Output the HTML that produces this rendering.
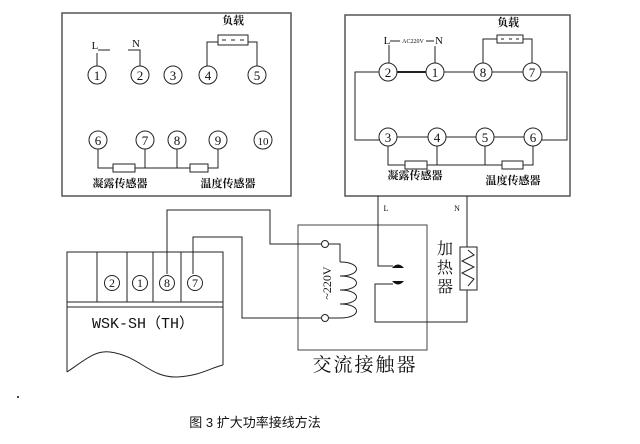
<!DOCTYPE html>
<html><head><meta charset="utf-8"><style>
html,body{margin:0;padding:0;background:#fff;width:640px;height:444px;overflow:hidden}
svg{display:block}
text{font-family:"Liberation Serif","Noto Serif CJK SC",serif;fill:#111}
.b{font-family:"Liberation Serif","Noto Sans CJK SC",sans-serif;font-weight:bold}
</style></head><body>
<svg width="640" height="444" viewBox="0 0 640 444" xmlns="http://www.w3.org/2000/svg">
<g fill="none" stroke="#222" stroke-width="1">
<!-- left panel -->
<rect x="62" y="13" width="229" height="183" stroke="#555" stroke-width="1.5"/>
<g fill="#fff">
<circle cx="97" cy="75" r="9"/><circle cx="140" cy="75" r="9"/><circle cx="173" cy="75" r="9"/><circle cx="208" cy="75" r="9"/><circle cx="257" cy="75" r="9"/>
<circle cx="98" cy="140" r="9"/><circle cx="145" cy="140" r="9"/><circle cx="177" cy="140" r="9"/><circle cx="218" cy="140" r="9"/><circle cx="263" cy="140" r="9"/>
</g>
<polyline points="97,53 97,66"/><polyline points="98,50 110,50"/>
<polyline points="128,50 140,50 140,66"/>
<rect x="218" y="35" width="30" height="10"/>
<line x1="222" y1="40" x2="226" y2="40"/><line x1="231" y1="40" x2="235" y2="40"/><line x1="240" y1="40" x2="244" y2="40"/>
<polyline points="218,42 207,42 207,66"/><polyline points="248,42 257,42 257,66"/>
<polyline points="98,149 98,168 113,168"/><rect x="113" y="164" width="22" height="8"/>
<polyline points="135,168 145,168 145,149"/><polyline points="145,168 190,168"/><polyline points="177,149 177,168"/>
<rect x="190" y="164" width="18" height="8"/><polyline points="208,168 218,168 218,149"/>
<!-- right panel -->
<rect x="345" y="15" width="225" height="181" stroke="#555" stroke-width="1.5"/>
<polyline points="389,45 389,63"/><polyline points="435,46 435,63"/>
<polyline points="390,41 400,41"/><polyline points="426,41 434,41"/>
<rect x="497" y="35" width="26" height="8"/>
<line x1="501" y1="39" x2="504" y2="39"/><line x1="509" y1="39" x2="512" y2="39"/><line x1="516" y1="39" x2="519" y2="39"/>
<polyline points="497,39 483,39 483,63"/><polyline points="523,39 532,39 532,63"/>
<line x1="397" y1="72" x2="426" y2="72" stroke-width="2"/>
<polyline points="444,72 474,72"/><polyline points="492,72 523,72"/>
<polyline points="379,72 355,72 355,140 379,140"/>
<polyline points="541,72 567,72 567,140 542,140"/>
<polyline points="397,137 428,137"/><polyline points="446,137 476,137"/><polyline points="494,137 524,137"/>
<polyline points="388,146 388,165 405,165"/><rect x="405" y="161" width="22" height="8"/>
<polyline points="427,165 502,165"/><polyline points="437,146 437,165"/><polyline points="485,146 485,165"/>
<rect x="502" y="161" width="21" height="8"/><polyline points="523,165 533,165 533,146"/>
<g fill="#fff">
<circle cx="388" cy="72" r="9"/><circle cx="435" cy="72" r="9"/><circle cx="483" cy="72" r="9"/><circle cx="532" cy="72" r="9"/>
<circle cx="388" cy="137" r="9"/><circle cx="437" cy="137" r="9"/><circle cx="485" cy="137" r="9"/><circle cx="533" cy="137" r="9"/>
</g>
<!-- contactor -->
<rect x="298" y="225" width="129" height="125" stroke="#444"/>
<polyline points="378,196 378,266 393,266"/>
<polyline points="393,284 375,284 375,322 467,322 467,290"/>
<polyline points="467,196 467,247"/>
<rect x="460" y="247" width="17" height="43"/>
<polyline points="468,250 474,255 462,261 474,267 462,273 474,279 468,286"/>
<circle cx="325" cy="244" r="3.5"/><circle cx="325" cy="318" r="3.5"/>
<polyline points="329,244 340,244 340,262"/>
<path d="M340,262 C362,262 362,276 340,276 C362,276 362,290 340,290 C362,290 362,304 340,304 C362,304 362,318 340,318 L329,318"/>
<polyline points="321,244 270,244 270,210 167,210 167,274"/>
<polyline points="321,318 242,318 242,237 193,237 193,274"/>
<!-- device -->
<path d="M67,372 L67,252 L223,252 L223,365"/>
<path d="M67,372 C85,360 95,350 110,352 C140,356 150,378 177,377 C200,376 210,368 223,365"/>
<line x1="97" y1="252" x2="97" y2="302"/><line x1="127" y1="252" x2="127" y2="302"/><line x1="153" y1="252" x2="153" y2="302"/><line x1="181" y1="252" x2="181" y2="302"/>
<line x1="67" y1="302" x2="223" y2="302"/><line x1="67" y1="307" x2="223" y2="307"/>
<g fill="#fff"><circle cx="112" cy="283" r="7.5"/><circle cx="140" cy="283" r="7.5"/><circle cx="167" cy="283" r="7.5"/><circle cx="195" cy="283" r="7.5"/></g>
</g>
<path d="M392,268 Q398,261 404,268 Z" fill="#111"/>
<path d="M392,281 Q398,288 404,281 Z" fill="#111"/>
<g font-size="13" text-anchor="middle">
<text x="97" y="80">1</text><text x="140" y="80">2</text><text x="173" y="80">3</text><text x="208" y="80">4</text><text x="257" y="80">5</text>
<text x="98" y="145">6</text><text x="145" y="145">7</text><text x="177" y="145">8</text><text x="218" y="145">9</text><text x="263" y="145" font-size="11">10</text>
<text x="388" y="77">2</text><text x="435" y="77">1</text><text x="483" y="77">8</text><text x="532" y="77">7</text>
<text x="388" y="142">3</text><text x="437" y="142">4</text><text x="485" y="142">5</text><text x="533" y="142">6</text>
</g>
<g font-size="11" text-anchor="middle">
<text x="95" y="49">L</text><text x="136" y="47">N</text>
<text x="387" y="44">L</text><text x="439" y="44">N</text>
<text x="413" y="43" font-size="6">AC220V</text>
</g>
<g class="b" font-size="11" text-anchor="middle">
<text x="233" y="24">负载</text><text x="508" y="26">负载</text>
<text x="120" y="187">凝露传感器</text><text x="228" y="187">温度传感器</text>
<text x="415" y="179">凝露传感器</text><text x="513" y="184">温度传感器</text>
</g>
<text x="386" y="211" font-size="8" text-anchor="middle">L</text>
<text x="457" y="211" font-size="8" text-anchor="middle">N</text>
<g font-size="12" text-anchor="middle"><text x="112" y="287">2</text><text x="140" y="287">1</text><text x="167" y="287">8</text><text x="195" y="287">7</text></g>
<text x="143" y="328" font-size="15" text-anchor="middle" style="font-family:'Liberation Mono','Noto Sans CJK SC',monospace">WSK-SH（TH）</text>
<text transform="translate(331,283) rotate(-90)" font-size="12" text-anchor="middle">~220V</text>
<g font-size="16" text-anchor="middle"><text x="445" y="254">加</text><text x="445" y="273">热</text><text x="445" y="292">器</text></g>
<text x="365" y="371" font-size="19" text-anchor="middle" letter-spacing="2">交流接触器</text>
<circle cx="18" cy="397" r="1" fill="#111"/>
<text x="255" y="427" font-size="13" text-anchor="middle" style="font-family:'Liberation Sans','Noto Sans CJK SC',sans-serif">图 3 扩大功率接线方法</text>
</svg>
</body></html>
